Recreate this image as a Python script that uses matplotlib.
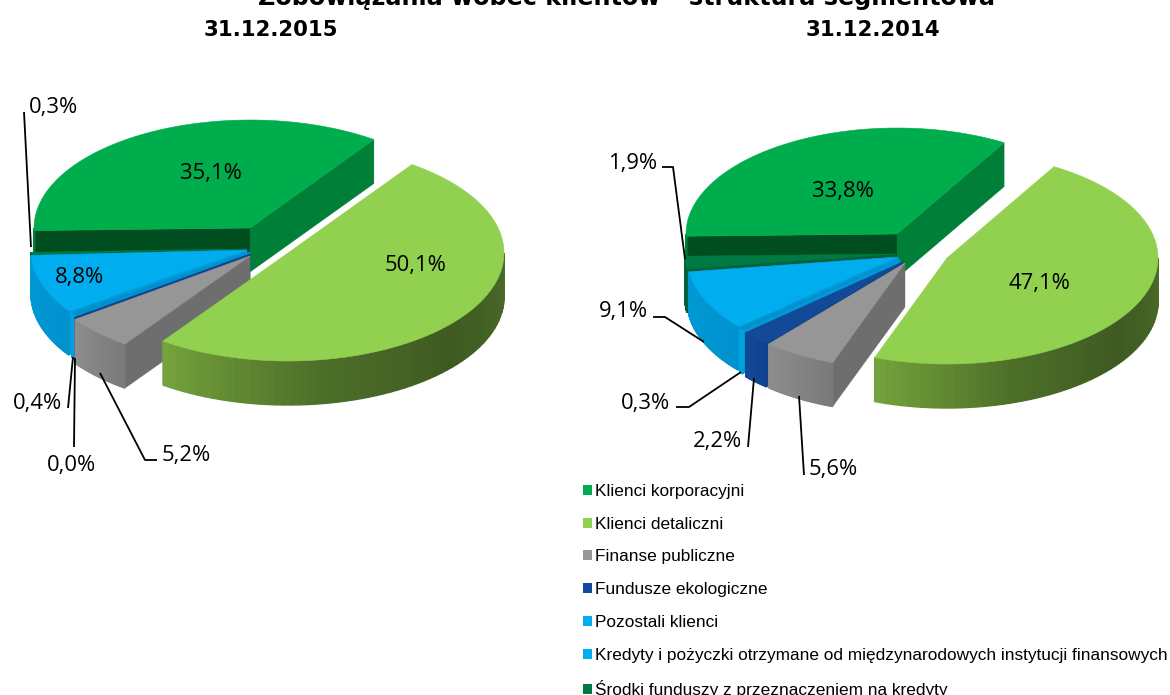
import numpy as np
import matplotlib
matplotlib.use("Agg")
import matplotlib.pyplot as plt
from matplotlib.patches import Polygon, Patch
from matplotlib.colors import LinearSegmentedColormap

# shares in percent, legend order
segments = ["Klienci korporacyjni", "Klienci detaliczni", "Finanse publiczne", "Fundusze ekologiczne",
            "Pozostali klienci", "Kredyty i pożyczki otrzymane od międzynarodowych instytucji finansowych",
            "Środki funduszy z przeznaczeniem na kredyty"]
values_2015 = [35.1, 50.1, 5.2, 0.0, 0.4, 8.8, 0.3]
values_2014 = [33.8, 47.1, 5.6, 2.2, 0.3, 9.1, 1.9]

title = "Zobowiązania wobec klientów – struktura segmentowa"
date_2015 = "31.12.2015"
date_2014 = "31.12.2014"

legend_cols = ["#00AD4D", "#92D050", "#969696", "#124A97", "#00ADEF", "#00ADEF", "#007A45"]
top_cols = ["#00AD4D", "#92D050", "#969696", "#124A97", "#0090C8", "#00ADEF", "#007A45"]
cut_cols = ["#007F38", "#5F8A30", "#6E6E6E", "#0F3F85", "#0098D8", "#0098D8", "#00562E"]
left_cols = ["#004D20", "#004D20", "#004D20", "#0F4290", "#0098D8", "#00A0DC", "#00603A"]
side_cols = [["#007F38", "#007F38"],
             ["#74A23C", "#4E7029", "#3E5A22", "#4A6A28"],
             ["#8E8E8E", "#7A7A7A"],
             ["#124A97", "#0F4290"],
             ["#00A2DE", "#00A2DE"],
             ["#009AD6", "#0092CE"],
             ["#00603A", "#00603A"]]

# draw order back to front: corporate, funds, credits, others, eco, public, retail
order = [0, 6, 5, 4, 3, 2, 1]
depth = 44


def wedge_points(c, rx, ry, a0, a1, n=80):
    t = np.radians(np.linspace(a0, a1, n))
    return c[0] + rx * np.cos(t), c[1] - ry * np.sin(t)


def draw_slice(ax, i, c, rx, ry, a0, a1):
    # a0 <= a1, angles counter clockwise in degrees
    for a, sign in ((a1, 1), (a0, -1)):
        # cut face shows only when its normal points at the viewer
        if np.sin(np.radians(a + sign * 90)) < 0:
            x, y = wedge_points(c, rx, ry, a, a, 1)
            face = [(c[0], c[1]), (x[0], y[0]), (x[0], y[0] + depth), (c[0], c[1] + depth)]
            col = left_cols[i] if abs(a) > 170 else cut_cols[i]
            ax.add_patch(Polygon(face, closed=True, fc=col, ec=col, lw=0.3))
    # outer wall, only the front half of the ellipse
    lo, hi = max(a0, -180), min(a1, 0)
    if a0 > 0:
        lo, hi = max(a0, 180), a1
    if hi >= lo:
        x, y = wedge_points(c, rx, ry, lo, hi, 60)
        cmap = LinearSegmentedColormap.from_list("s", side_cols[i])
        for k in range(len(x) - 1):
            q = [(x[k], y[k]), (x[k + 1], y[k + 1]), (x[k + 1], y[k + 1] + depth), (x[k], y[k] + depth)]
            col = cmap(k / (len(x) - 2))
            ax.add_patch(Polygon(q, closed=True, fc=col, ec=col, lw=1.0, joinstyle="bevel"))
    x, y = wedge_points(c, rx, ry, a0, a1)
    pts = [(c[0], c[1])] + list(zip(x, y))
    ax.add_patch(Polygon(pts, closed=True, fc=top_cols[i], ec=top_cols[i], lw=0.8 if i == 3 else 0.4))


def draw_pie(ax, values, start, centres, rx, ry):
    # slices run clockwise from the retail slice, corporate sits ccw of the start
    angles = {}
    angles[0] = (start, start + values[0] * 3.6)
    a = start
    for i in range(1, len(values)):
        angles[i] = (a - values[i] * 3.6, a)
        a -= values[i] * 3.6
    for i in order:
        draw_slice(ax, i, centres[i], rx, ry, angles[i][0], angles[i][1])


def pct(v):
    return f"{v:.1f}%".replace(".", ",")


fig = plt.figure(figsize=(11.7, 6.95), dpi=100)
ax = fig.add_axes([0, 0, 1, 1])
ax.set_xlim(0, 1170)
ax.set_ylim(695, 0)
ax.axis("off")

centres_2015 = [(250, 228), (288, 253), (250, 256), (250, 254), (250, 252), (247, 250), (247, 249)]
centres_2014 = [(897, 234), (947, 258), (905, 263), (903, 262), (900, 259), (898, 257), (896, 254)]
draw_pie(ax, values_2015, 55, centres_2015, 216, 108)
draw_pie(ax, values_2014, 59.5, centres_2014, 211, 106)

# leader lines and labels: (series index, text centre, line points)
lab_font = dict(family="Open Sans", fontsize=15.8, ha="center", va="center", color="black")
inside_2015 = [(0, 211, 173), (1, 415, 266), (5, 79, 278)]
inside_2014 = [(0, 843, 191), (1, 1039, 283)]
outside_2015 = [(6, 53, 108, [24, 31], [112, 247]),
                (4, 37, 404, [68, 73], [408, 357]),
                (3, 72, 465, [74, 75], [447, 358]),
                (2, 186, 455, [157, 145, 100], [460, 460, 373])]
outside_2014 = [(6, 633, 164, [662, 673, 685], [167, 167, 259]),
                (5, 623, 312, [653, 665, 704], [317, 317, 342]),
                (4, 646, 403, [676, 689, 741], [407, 407, 372]),
                (3, 718, 442, [748, 754], [447, 378]),
                (2, 833, 470, [804, 799], [475, 396])]

for vals, inside, outside in ((values_2015, inside_2015, outside_2015), (values_2014, inside_2014, outside_2014)):
    for i, x, y in inside:
        ax.text(x, y, pct(vals[i]), **lab_font)
    for i, x, y, lx, ly in outside:
        ax.text(x, y, pct(vals[i]), **lab_font)
        ax.plot(lx, ly, color="black", lw=1.3, solid_capstyle="butt")

ax.text(627, 5, title, family="DejaVu Sans", fontweight="bold", fontsize=17.2, ha="center", va="baseline")
ax.text(271, 36, date_2015, family="DejaVu Sans", fontweight="bold", fontsize=15.3, ha="center", va="baseline")
ax.text(873, 36, date_2014, family="DejaVu Sans", fontweight="bold", fontsize=15.3, ha="center", va="baseline")

handles = [Patch(fc=c, ec=c, lw=0) for c in legend_cols]
ax.legend(handles, segments, loc="upper left", bbox_to_anchor=(583, 484), bbox_transform=ax.transData,
          frameon=False, borderpad=0, borderaxespad=0, prop=dict(family="Liberation Sans", size=12.4),
          handlelength=0.53, handleheight=0.53, handletextpad=0.15, labelspacing=1.03)

fig.savefig("out.png", dpi=100)
